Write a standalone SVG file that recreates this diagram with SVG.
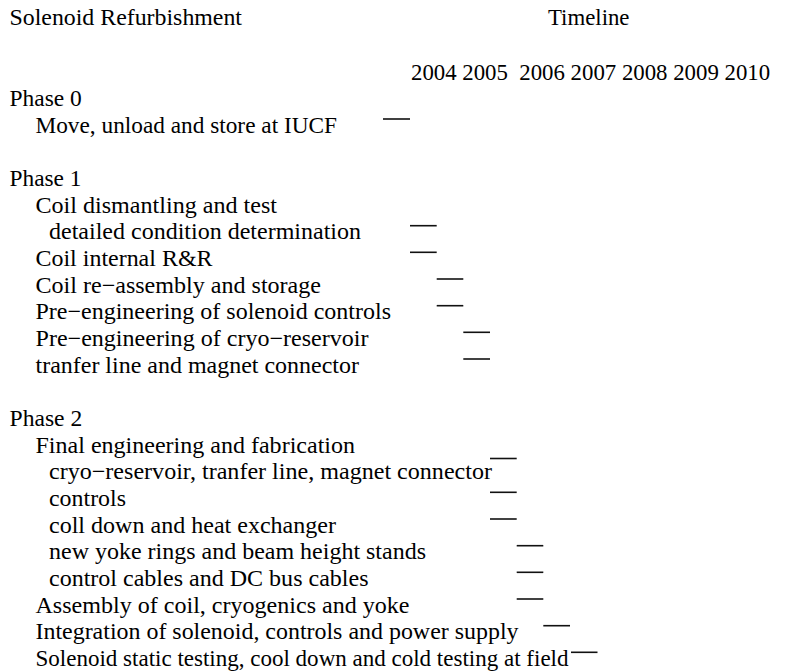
<svg xmlns="http://www.w3.org/2000/svg" width="786" height="672" viewBox="0 0 786 672">
<style>
text { font-family: "Liberation Serif", "Times New Roman", serif; font-size: 22.8px; fill: #000; }
.bar { stroke: #111; stroke-width: 1.6; }
</style>
<rect width="786" height="672" fill="#fff"/>
<g id="header">
<text x="9.5" y="25" textLength="232.5" lengthAdjust="spacingAndGlyphs">Solenoid Refurbishment</text>
<text x="548" y="25">Timeline</text>
<text x="411" y="80">2004</text>
<text x="462.3" y="80">2005</text>
<text x="519.3" y="80">2006</text>
<text x="570.6" y="80">2007</text>
<text x="621.9" y="80">2008</text>
<text x="673.2" y="80">2009</text>
<text x="724.5" y="80">2010</text>
</g>
<g id="labels">
<text x="9.5" y="106" textLength="72.3" lengthAdjust="spacingAndGlyphs">Phase 0</text>
<text x="35.5" y="132.7" textLength="301.5" lengthAdjust="spacingAndGlyphs">Move, unload and store at IUCF</text>
<text x="9.5" y="186" textLength="72" lengthAdjust="spacingAndGlyphs">Phase 1</text>
<text x="35.5" y="212.7" textLength="241.5" lengthAdjust="spacingAndGlyphs">Coil dismantling and test</text>
<text x="49" y="239.3" textLength="312" lengthAdjust="spacingAndGlyphs">detailed condition determination</text>
<text x="35.5" y="266" textLength="177" lengthAdjust="spacingAndGlyphs">Coil internal R&amp;R</text>
<text x="35.5" y="292.7" textLength="285.5" lengthAdjust="spacingAndGlyphs">Coil re−assembly and storage</text>
<text x="35.5" y="319.3" textLength="355.5" lengthAdjust="spacingAndGlyphs">Pre−engineering of solenoid controls</text>
<text x="35.5" y="346" textLength="333" lengthAdjust="spacingAndGlyphs">Pre−engineering of cryo−reservoir</text>
<text x="35.5" y="372.7" textLength="323.5" lengthAdjust="spacingAndGlyphs">tranfer line and magnet connector</text>
<text x="9.5" y="426" textLength="72.8" lengthAdjust="spacingAndGlyphs">Phase 2</text>
<text x="35.5" y="452.7" textLength="319.5" lengthAdjust="spacingAndGlyphs">Final engineering and fabrication</text>
<text x="49" y="479.3" textLength="443" lengthAdjust="spacingAndGlyphs">cryo−reservoir, tranfer line, magnet connector</text>
<text x="49" y="506" textLength="77" lengthAdjust="spacingAndGlyphs">controls</text>
<text x="49" y="532.7" textLength="287" lengthAdjust="spacingAndGlyphs">coll down and heat exchanger</text>
<text x="49" y="559.3" textLength="377" lengthAdjust="spacingAndGlyphs">new yoke rings and beam height stands</text>
<text x="49" y="586" textLength="319.5" lengthAdjust="spacingAndGlyphs">control cables and DC bus cables</text>
<text x="35.5" y="612.7" textLength="374" lengthAdjust="spacingAndGlyphs">Assembly of coil, cryogenics and yoke</text>
<text x="35.5" y="639.3" textLength="483" lengthAdjust="spacingAndGlyphs">Integration of solenoid, controls and power supply</text>
<text x="35.5" y="666" textLength="533" lengthAdjust="spacingAndGlyphs">Solenoid static testing, cool down and cold testing at field</text>
</g>
<g id="bars">
<line class="bar" x1="383" y1="119" x2="410" y2="119"/>
<line class="bar" x1="410" y1="225.7" x2="436.7" y2="225.7"/>
<line class="bar" x1="410" y1="252.3" x2="436.7" y2="252.3"/>
<line class="bar" x1="436.7" y1="279" x2="463.3" y2="279"/>
<line class="bar" x1="436.7" y1="305.7" x2="463.3" y2="305.7"/>
<line class="bar" x1="463.3" y1="332.3" x2="490" y2="332.3"/>
<line class="bar" x1="463.3" y1="359" x2="490" y2="359"/>
<line class="bar" x1="490" y1="458.5" x2="516.7" y2="458.5"/>
<line class="bar" x1="490" y1="492.3" x2="516.7" y2="492.3"/>
<line class="bar" x1="490" y1="519" x2="516.7" y2="519"/>
<line class="bar" x1="516.7" y1="545.7" x2="543.3" y2="545.7"/>
<line class="bar" x1="516.7" y1="572.3" x2="543.3" y2="572.3"/>
<line class="bar" x1="516.7" y1="599" x2="543.3" y2="599"/>
<line class="bar" x1="543.3" y1="625.7" x2="570" y2="625.7"/>
<line class="bar" x1="571" y1="652.3" x2="597.5" y2="652.3"/>
</g>
</svg>
